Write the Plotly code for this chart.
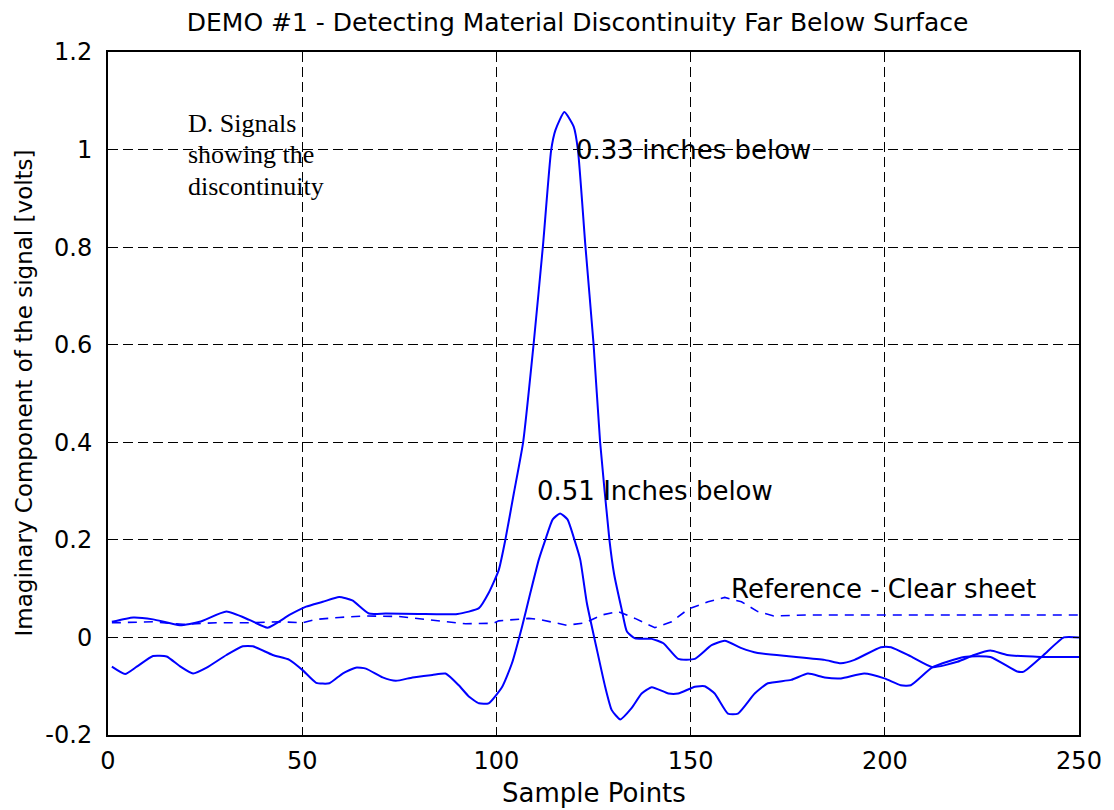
import plotly.graph_objects as go

# ---- data ----
x_033 = [1, 6.5, 11.6, 18.5, 23.6, 30.5, 36.4, 41.1, 46.7, 51, 55.3, 59.5, 62.9, 67.2, 71.5, 80, 90,
         95.5, 98, 100.6, 102.3, 104.5, 106.9, 109.6, 112, 114.1, 115.2, 117.5, 119.9, 121, 122.9,
         125, 126.7, 129.1, 130.3, 132.3, 133.6, 135.7, 140, 143, 146.8, 151.1, 155.4, 158.8, 163.1,
         167.3, 175.9, 184.5, 188.7, 192.2, 199, 201.6, 206.7, 212.3, 218.7, 223, 227.2, 231.5, 240, 250]
y_033 = [0.032, 0.041, 0.037, 0.025, 0.032, 0.053, 0.036, 0.020, 0.046, 0.063, 0.073, 0.083, 0.076,
         0.049, 0.049, 0.048, 0.048, 0.060, 0.091, 0.138, 0.200, 0.296, 0.401, 0.603, 0.804, 0.999,
         1.040, 1.077, 1.047, 0.999, 0.804, 0.603, 0.401, 0.200, 0.130, 0.056, 0.012, -0.002, -0.003,
         -0.012, -0.044, -0.044, -0.016, -0.007, -0.022, -0.032, -0.039, -0.046, -0.053, -0.046,
         -0.020, -0.020, -0.039, -0.061, -0.050, -0.036, -0.027, -0.036, -0.040, -0.040]

x_051 = [1, 4.4, 7.4, 11.6, 15.1, 18.5, 21.9, 25.4, 30.5, 34.7, 37.3, 42.4, 46.7, 50.1, 53.6, 57,
         60.4, 63.8, 66.4, 70.7, 74.1, 78.4, 83.5, 86.9, 90.3, 92.9, 95.5, 98, 101.5, 104, 106.6,
         108.7, 110.9, 112.6, 114.5, 116.4, 118.3, 120.1, 121.6, 123.3, 125.9, 128, 129.7, 131.9,
         134.8, 137.4, 140, 144.3, 146.8, 151.1, 153.6, 156.2, 159.6, 162.2, 166.5, 169.9, 175.9,
         180.2, 184.5, 188.7, 194.7, 199.9, 204.1, 206.7, 212.3, 220.4, 227.2, 234.1, 235.8, 240.9,
         246.1, 250]
y_051 = [-0.060, -0.075, -0.060, -0.038, -0.039, -0.059, -0.074, -0.062, -0.036, -0.018, -0.018,
         -0.036, -0.046, -0.067, -0.093, -0.094, -0.074, -0.062, -0.064, -0.082, -0.089, -0.082,
         -0.077, -0.074, -0.098, -0.121, -0.135, -0.135, -0.101, -0.053, 0.022, 0.090, 0.159, 0.200,
         0.242, 0.254, 0.242, 0.200, 0.159, 0.070, -0.026, -0.101, -0.149, -0.168, -0.145, -0.115,
         -0.102, -0.115, -0.115, -0.101, -0.100, -0.115, -0.156, -0.156, -0.115, -0.094, -0.087,
         -0.074, -0.082, -0.084, -0.074, -0.084, -0.098, -0.098, -0.061, -0.040, -0.040, -0.070,
         -0.070, -0.036, 0.000, 0.000]

x_ref = [1, 11.6, 19.3, 27.9, 36.4, 44.1, 50.1, 53.6, 59.5, 66.4, 74.9, 83.5, 92.1, 99.2, 100.6,
         108.3, 110.9, 118.1, 122.9, 127.1, 131.4, 135.7, 140.8, 145.1, 149.4, 154.5, 158.8, 163.1,
         167.3, 171.4, 180, 200, 220, 250]
y_ref = [0.030, 0.032, 0.027, 0.030, 0.030, 0.032, 0.030, 0.037, 0.041, 0.044, 0.043, 0.036, 0.028,
         0.029, 0.034, 0.039, 0.037, 0.025, 0.030, 0.046, 0.053, 0.039, 0.020, 0.032, 0.058, 0.073,
         0.082, 0.073, 0.053, 0.044, 0.046, 0.046, 0.046, 0.046]

x_ticks = [0, 50, 100, 150, 200, 250]
x_ticktext = ["0", "50", "100", "150", "200", "250"]
y_ticks = [-0.2, 0, 0.2, 0.4, 0.6, 0.8, 1.0, 1.2]
y_ticktext = ["-0.2", "0", "0.2", "0.4", "0.6", "0.8", "1", "1.2"]

title_text = "DEMO #1 - Detecting Material Discontinuity Far Below Surface"
x_title = "Sample Points"
y_title = "Imaginary Component of the signal [volts]"
label_033 = "0.33 inches below"
label_051 = "0.51 Inches below"
label_ref = "Reference - Clear sheet"
note_lines = ["D. Signals", "showing the", "discontinuity"]

BLUE = "#0000FF"
SANS = "DejaVu Sans"

fig = go.Figure()
fig.add_trace(go.Scatter(x=x_ref, y=y_ref, mode="lines",
                         line=dict(color=BLUE, width=1.6, dash="9px,7px"), showlegend=False))
fig.add_trace(go.Scatter(x=x_033, y=y_033, mode="lines",
                         line=dict(color=BLUE, width=2, shape="spline", smoothing=0.5), showlegend=False))
fig.add_trace(go.Scatter(x=x_051, y=y_051, mode="lines",
                         line=dict(color=BLUE, width=2, shape="spline", smoothing=0.5), showlegend=False))

ann = []
ann.append(dict(x=120, y=1.0, text=label_033, xanchor="left", yanchor="middle",
                showarrow=False, font=dict(family=SANS, size=26, color="black")))
ann.append(dict(x=110, y=0.3, text=label_051, xanchor="left", yanchor="middle",
                showarrow=False, font=dict(family=SANS, size=26, color="black")))
ann.append(dict(x=160, y=0.1, text=label_ref, xanchor="left", yanchor="middle",
                showarrow=False, font=dict(family=SANS, size=26, color="black")))
for line, yy in zip(note_lines, [1.054, 0.989, 0.925]):
    ann.append(dict(x=20.2, y=yy, text=line, xanchor="left", yanchor="middle",
                    showarrow=False, font=dict(family="Liberation Serif", size=26, color="black")))
ann.append(dict(x=0.5, y=0, xref="paper", yref="paper", yshift=-58, text=x_title,
                xanchor="center", yanchor="middle", showarrow=False,
                font=dict(family=SANS, size=26, color="black")))
ann.append(dict(x=0, y=0.5, xref="paper", yref="paper", xshift=-85, text=y_title, textangle=-90,
                xanchor="center", yanchor="middle", showarrow=False,
                font=dict(family=SANS, size=23, color="black")))

axis_common = dict(showline=True, linecolor="black", linewidth=2, mirror="ticks",
                   ticks="inside", ticklen=6, tickcolor="black", tickwidth=1,
                   showgrid=True, gridcolor="black", gridwidth=1, griddash="10px,5px",
                   zeroline=False, tickfont=dict(family=SANS, size=24, color="black"))

fig.update_layout(
    width=1114, height=810,
    margin=dict(l=108, r=32, t=52, b=75),
    paper_bgcolor="white", plot_bgcolor="white",
    title=dict(text=title_text, x=0.4836, xref="paper", y=1 - 22 / 810, yref="container",
               xanchor="center", yanchor="middle",
               font=dict(family=SANS, size=25, color="black")),
    annotations=ann,
)
fig.update_xaxes(range=[0, 250], tickvals=x_ticks, ticktext=x_ticktext,
                 ticklabelstandoff=3, **axis_common)
fig.update_yaxes(range=[-0.2, 1.2], tickvals=y_ticks, ticktext=y_ticktext,
                 ticklabelstandoff=9, **axis_common)

fig.write_html("out.html")
